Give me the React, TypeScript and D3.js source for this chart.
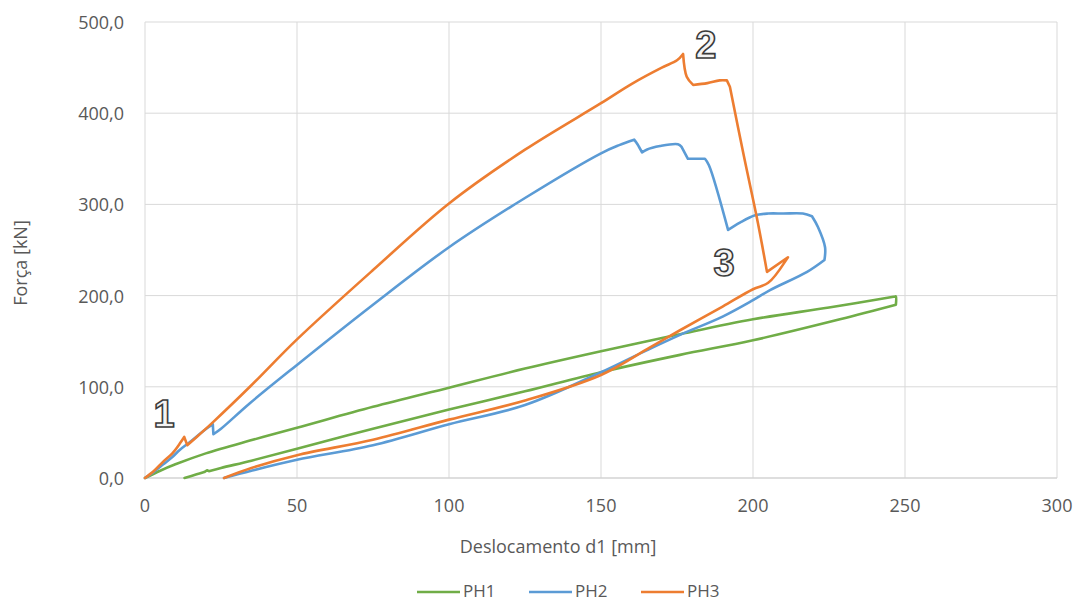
import React from "react";
import * as d3 from "d3";

// PH1 (green)
const ph1Disp = [0, 5, 10, 20, 34.5, 50, 75, 100, 125, 150, 175, 200, 225, 246.7, 247, 247, 228.6, 200, 176, 150, 125, 100, 75, 50, 35, 25, 21, 20.4, 19.5, 17, 13];
const ph1Force = [0, 8, 15, 27, 41, 55, 78, 99, 120, 139, 157, 174, 187, 199, 199, 190, 174, 151, 135, 116, 95, 75, 54, 32, 19, 11, 7.5, 8.5, 6.5, 4, 0];
const ph1Corners = [13, 15, 26, 27, 28];

// PH2 (blue)
const ph2Disp = [0, 3, 6, 9, 11.5, 15, 19, 22.3, 22.5, 25, 34.5, 50, 75, 100, 125, 150, 156, 160.9, 162, 163.5, 165, 169.4, 175.3, 176.5, 178.6, 184.2, 185.5, 191.8, 195.7, 200.7, 205, 210, 216.4, 219.4, 221.4, 223.7, 223.5, 217.8, 205.6, 200, 190, 176, 165, 150, 125, 100, 75, 50, 35, 26];
const ph2Force = [0, 7, 15, 23, 31, 40, 51, 59, 48, 54, 82, 124, 190, 253, 307, 356, 365, 371, 366, 357, 360, 364, 366, 363, 350, 350, 343, 272, 280, 288, 290, 290, 290, 287, 275, 253, 239, 226, 206, 195, 177, 157, 140, 116, 80, 59, 36, 20, 8, 0];
const ph2Corners = [7, 8, 17, 19, 23, 24, 25, 27, 33, 36];

// PH3 (orange)
const ph3Disp = [0, 3, 6, 9, 11.5, 12.9, 13.9, 17, 22.3, 34.5, 50, 75, 100, 125, 150, 160, 170, 175, 177, 178.2, 180.3, 185, 189, 191.4, 192.4, 197, 201.6, 204.6, 211.5, 210.5, 205, 200, 190, 176, 166, 150, 125, 100, 75, 50, 35, 26];
const ph3Force = [0, 8, 18, 27, 38, 45, 36, 45, 61, 100, 152, 228, 301, 360, 411, 432, 450, 458, 465, 440, 431, 433, 436, 436, 429, 353, 280, 226, 242, 237, 214, 207, 188, 162, 143, 113, 85, 64, 42, 25, 11, 0];
const ph3Corners = [5, 6, 18, 20, 23, 24, 27, 28, 29];

const seriesNames = ["PH1", "PH2", "PH3"];
const xTicks = [0, 50, 100, 150, 200, 250, 300];
const yTicks = [0, 100, 200, 300, 400, 500];

// annotations: label, displacement, force (baseline)
const annLabels = ["1", "2", "3"];
const annDisp = [6.3, 184.5, 190.5];
const annForce = [56, 460.5, 221.5];

const colors = ["#70ad47", "#5b9bd5", "#ed7d31"];
const FONT = "'Open Sans', sans-serif";
const TXT = "#595959";

export default function App() {
  const W = 1074, H = 602;
  const x = d3.scaleLinear().domain([0, 300]).range([145, 1057]);
  const y = d3.scaleLinear().domain([0, 500]).range([478, 22]);
  const line = d3
    .line<[number, number]>()
    .x((d) => x(d[0]))
    .y((d) => y(d[1]))
    .curve(d3.curveCatmullRom.alpha(0.5));
  const zip = (a: number[], b: number[]) => a.map((v, i) => [v, b[i]] as [number, number]);
  const split = (pts: [number, number][], corners: number[]) => {
    const segs: [number, number][][] = [];
    let start = 0;
    for (const c of corners) {
      segs.push(pts.slice(start, c + 1));
      start = c;
    }
    segs.push(pts.slice(start));
    return segs;
  };
  const series = [
    split(zip(ph1Disp, ph1Force), ph1Corners),
    split(zip(ph2Disp, ph2Force), ph2Corners),
    split(zip(ph3Disp, ph3Force), ph3Corners),
  ];
  const pathFor = (segs: [number, number][][]) =>
    segs
      .map((s, k) => {
        const d = line(s) || "";
        return k === 0 ? d : d.replace(/^M[^A-Za-z]*/, (m) => "L" + m.slice(1));
      })
      .join("");
  const fmt = (v: number) => d3.format(".1f")(v).replace(".", ",");
  const legendX = [417, 529, 641];

  return (
    <svg width={W} height={H} style={{ position: "absolute", left: 0, top: 0, background: "#fff" }} fontFamily={FONT}>
      <rect width={W} height={H} fill="#fff" />
      {yTicks.map((t) => (
        <line key={"gy" + t} x1={x(0)} x2={x(300)} y1={y(t)} y2={y(t)} stroke="#d9d9d9" strokeWidth={1} />
      ))}
      {xTicks.map((t) => (
        <line key={"gx" + t} x1={x(t)} x2={x(t)} y1={y(0)} y2={y(500)} stroke="#d9d9d9" strokeWidth={1} />
      ))}
      <line x1={x(0)} x2={x(300)} y1={y(0)} y2={y(0)} stroke="#d0d0d0" strokeWidth={1.2} />
      {yTicks.map((t) => (
        <text key={"ty" + t} x={124} y={y(t) + 7} textAnchor="end" fontSize={18} fill={TXT}>{fmt(t)}</text>
      ))}
      {xTicks.map((t) => (
        <text key={"tx" + t} x={x(t)} y={512} textAnchor="middle" fontSize={18} fill={TXT}>{t}</text>
      ))}
      <text x={558} y={553} textAnchor="middle" fontSize={18} fill={TXT}>Deslocamento d1 [mm]</text>
      <text transform="translate(27,263) rotate(-90)" textAnchor="middle" fontSize={18} fill={TXT}>Força [kN]</text>
      {series.map((s, i) => (
        <path key={"s" + i} d={pathFor(s)} fill="none" stroke={colors[i]} strokeWidth={2.6} strokeLinejoin="round" strokeLinecap="round" />
      ))}
      {annLabels.map((l, i) => (
        <text key={"a" + i} x={x(annDisp[i])} y={y(annForce[i])} textAnchor="middle" fontSize={38} fontWeight="bold"
          fontFamily="'Liberation Sans', Arial, sans-serif" fill="#f4f4f4" stroke="#3c3c3c" strokeWidth={1.6}>{l}</text>
      ))}
      {seriesNames.map((n, i) => (
        <g key={"l" + i}>
          <line x1={legendX[i]} x2={legendX[i] + 43} y1={592} y2={592} stroke={colors[i]} strokeWidth={2.6} />
          <text x={legendX[i] + 46} y={597} fontSize={17} fill={TXT}>{n}</text>
        </g>
      ))}
    </svg>
  );
}
